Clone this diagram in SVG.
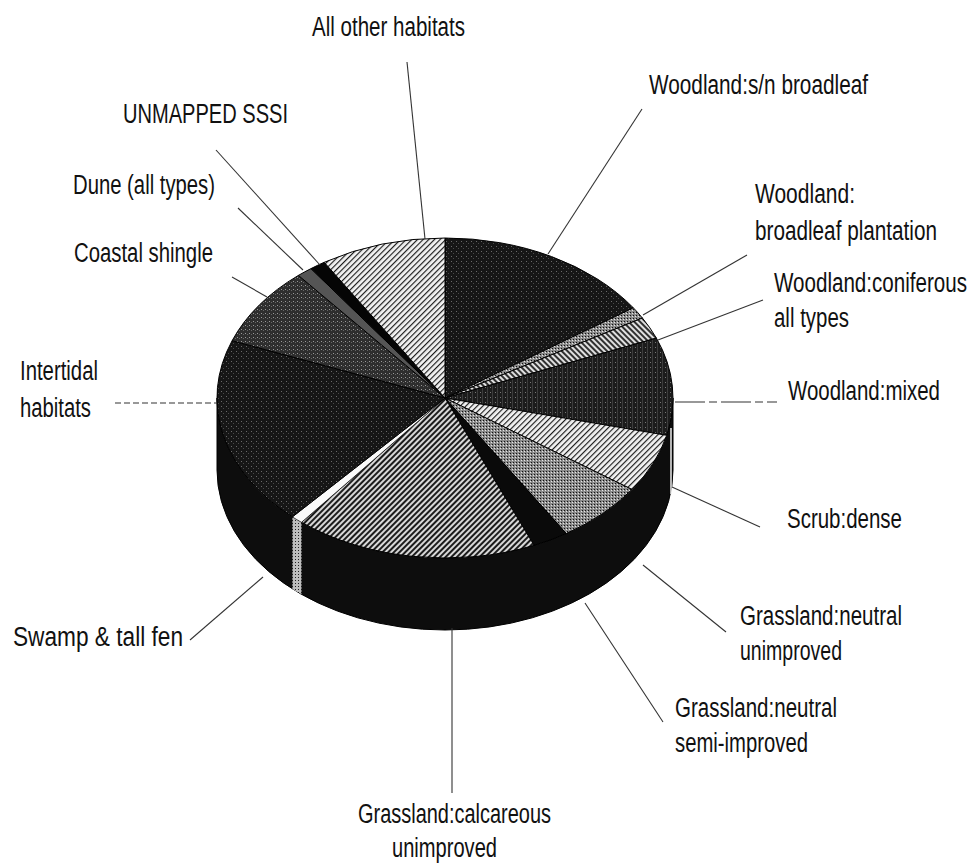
<svg xmlns="http://www.w3.org/2000/svg" width="976" height="868" viewBox="0 0 976 868">
<defs>
<pattern id="hLight" width="4" height="4" patternUnits="userSpaceOnUse" patternTransform="rotate(45)">
<rect width="4" height="4" fill="#f2f2f2"/><line x1="0.6" y1="0" x2="0.6" y2="4" stroke="#111" stroke-width="1.1"/>
</pattern>
<pattern id="hMed" width="4" height="4" patternUnits="userSpaceOnUse" patternTransform="rotate(45)">
<rect width="4" height="4" fill="#d8d8d8"/><line x1="1" y1="0" x2="1" y2="4" stroke="#111" stroke-width="1.9"/>
</pattern>
<pattern id="hBack" width="4" height="4" patternUnits="userSpaceOnUse" patternTransform="rotate(-45)">
<rect width="4" height="4" fill="#e0e0e0"/><line x1="1" y1="0" x2="1" y2="4" stroke="#111" stroke-width="1.7"/>
</pattern>
<pattern id="dark" width="5" height="5" patternUnits="userSpaceOnUse">
<rect width="5" height="5" fill="#161616"/><rect x="1" y="1" width="1" height="1" fill="#6a6a6a"/><rect x="3" y="3" width="1" height="1" fill="#4a4a4a"/>
</pattern>
<pattern id="darkGrid" width="5" height="5" patternUnits="userSpaceOnUse">
<rect width="5" height="5" fill="#1c1c1c"/><rect x="2" y="0" width="1" height="5" fill="#3c3c3c"/><rect x="0" y="2" width="1" height="1" fill="#777"/>
</pattern>
<pattern id="medDot" width="3" height="3" patternUnits="userSpaceOnUse">
<rect width="3" height="3" fill="#8a8a8a"/><rect x="0" y="0" width="1" height="1" fill="#111"/><rect x="2" y="1" width="1" height="1" fill="#e6e6e6"/>
</pattern>
<pattern id="shingle" width="4" height="4" patternUnits="userSpaceOnUse">
<rect width="4" height="4" fill="#2e2e2e"/><rect x="1" y="1" width="1" height="1" fill="#999"/><rect x="3" y="2" width="1" height="1" fill="#666"/>
</pattern>
<pattern id="sideSwamp" width="3" height="3" patternUnits="userSpaceOnUse">
<rect width="3" height="3" fill="#bdbdbd"/><rect x="1" y="1" width="1" height="1" fill="#222"/>
</pattern>
</defs>
<style>
text{font-family:"Liberation Sans",Arial,sans-serif;font-size:27px;fill:#111}
.s{stroke:#000;stroke-width:1}
.ld{fill:none;stroke:#333;stroke-width:1.1}
</style>
<rect width="976" height="868" fill="#fff"/>

<g id="pie-side">
<path class="s" d="M217 398 L217 470 A228 160 0 0 0 673 470 L673 398 A228 160 0 0 1 217 398 Z" fill="#0d0d0d"/>
<path d="M301.5 522.3 A228 160 0 0 1 292.4 516.9 L292.4 588.9 A228 160 0 0 0 301.5 594.3 Z" fill="url(#sideSwamp)"/>
<line x1="671" y1="428" x2="671" y2="494" stroke="#eee" stroke-width="1.5"/>
</g>

<g id="woodland-sn-broadleaf">
<path class="s" d="M445 398 L445 238 A228 160 0 0 1 633.3 307.8 Z" fill="url(#dark)"/>
<text x="649" y="94" textLength="219" lengthAdjust="spacingAndGlyphs">Woodland:s/n broadleaf</text>
</g>
<g id="woodland-broadleaf-plantation">
<path class="s" d="M445 398 L633.3 307.8 A228 160 0 0 1 642.4 318 Z" fill="url(#medDot)"/>
<text x="755" y="203" textLength="100" lengthAdjust="spacingAndGlyphs">Woodland:</text>
<text x="755" y="240" textLength="182" lengthAdjust="spacingAndGlyphs">broadleaf plantation</text>
</g>
<g id="woodland-coniferous">
<path class="s" d="M445 398 L642.4 318 A228 160 0 0 1 656.4 338.1 Z" fill="url(#hBack)"/>
<text x="774" y="292" textLength="193" lengthAdjust="spacingAndGlyphs">Woodland:coniferous</text>
<text x="774" y="327" textLength="75" lengthAdjust="spacingAndGlyphs">all types</text>
</g>
<g id="woodland-mixed">
<path class="s" d="M445 398 L656.4 338.1 A228 160 0 0 1 666.7 435.3 Z" fill="url(#darkGrid)"/>
<text x="788" y="400" textLength="152" lengthAdjust="spacingAndGlyphs">Woodland:mixed</text>
</g>
<g id="scrub-dense">
<path class="s" d="M445 398 L666.7 435.3 A228 160 0 0 1 632 489.5 Z" fill="url(#hLight)"/>
<text x="787" y="528" textLength="115" lengthAdjust="spacingAndGlyphs">Scrub:dense</text>
</g>
<g id="grassland-neutral-unimproved">
<path class="s" d="M445 398 L632 489.5 A228 160 0 0 1 566.2 533.5 Z" fill="url(#medDot)"/>
<text x="740" y="625" textLength="162" lengthAdjust="spacingAndGlyphs">Grassland:neutral</text>
<text x="740" y="660" textLength="102" lengthAdjust="spacingAndGlyphs">unimproved</text>
</g>
<g id="grassland-neutral-semi-improved">
<path class="s" d="M445 398 L566.2 533.5 A228 160 0 0 1 534.1 545.3 Z" fill="#0a0a0a"/>
<text x="675" y="717" textLength="162" lengthAdjust="spacingAndGlyphs">Grassland:neutral</text>
<text x="675" y="752" textLength="133" lengthAdjust="spacingAndGlyphs">semi-improved</text>
</g>
<g id="grassland-calcareous-unimproved">
<path class="s" d="M445 398 L534.1 545.3 A228 160 0 0 1 301.5 522.3 Z" fill="url(#hMed)"/>
<text x="358" y="823" textLength="193" lengthAdjust="spacingAndGlyphs">Grassland:calcareous</text>
<text x="392" y="857" textLength="105" lengthAdjust="spacingAndGlyphs">unimproved</text>
</g>
<g id="swamp-tall-fen">
<path d="M445 398 L301.5 522.3 A228 160 0 0 1 292.4 516.9 Z" fill="#fafafa" stroke="#000" stroke-width="0.6"/>
<text x="13" y="646" textLength="170" lengthAdjust="spacingAndGlyphs">Swamp &amp; tall fen</text>
</g>
<g id="intertidal-habitats">
<path class="s" d="M445 398 L292.4 516.9 A228 160 0 0 1 232.1 340.7 Z" fill="url(#dark)"/>
<text x="20" y="380" textLength="78" lengthAdjust="spacingAndGlyphs">Intertidal</text>
<text x="20" y="417" textLength="71" lengthAdjust="spacingAndGlyphs">habitats</text>
</g>
<g id="coastal-shingle">
<path class="s" d="M445 398 L232.1 340.7 A228 160 0 0 1 298.4 275.4 Z" fill="url(#shingle)"/>
<text x="74" y="262" textLength="139" lengthAdjust="spacingAndGlyphs">Coastal shingle</text>
</g>
<g id="dune">
<path class="s" d="M445 398 L298.4 275.4 A228 160 0 0 1 311 268.6 Z" fill="#555"/>
<text x="73" y="194" textLength="142" lengthAdjust="spacingAndGlyphs">Dune (all types)</text>
</g>
<g id="unmapped-sssi">
<path class="s" d="M445 398 L311 268.6 A228 160 0 0 1 324.2 262.3 Z" fill="#050505"/>
<text x="123" y="123" textLength="165" lengthAdjust="spacingAndGlyphs">UNMAPPED SSSI</text>
</g>
<g id="all-other-habitats">
<path class="s" d="M445 398 L324.2 262.3 A228 160 0 0 1 445 238 Z" fill="url(#hLight)"/>
<text x="312" y="36" textLength="153" lengthAdjust="spacingAndGlyphs">All other habitats</text>
</g>

<g id="connectors">
<line class="ld" x1="407" y1="62" x2="425" y2="239"/>
<line class="ld" x1="642" y1="109" x2="548" y2="254"/>
<line class="ld" x1="216" y1="150" x2="320" y2="265"/>
<line class="ld" x1="238" y1="208" x2="303" y2="270"/>
<line class="ld" x1="232" y1="277" x2="267" y2="297"/>
<line class="ld" x1="115" y1="403" x2="217" y2="403" stroke-dasharray="6 3"/>
<line class="ld" x1="747" y1="255" x2="643" y2="315"/>
<line class="ld" x1="763" y1="300" x2="658" y2="340"/>
<line class="ld" x1="675" y1="402" x2="777" y2="402" stroke-dasharray="30 4 8 4"/>
<line class="ld" x1="672" y1="487" x2="760" y2="527"/>
<line class="ld" x1="643" y1="565" x2="726" y2="632"/>
<line class="ld" x1="585" y1="603" x2="663" y2="722"/>
<line class="ld" x1="452" y1="628" x2="452" y2="793"/>
<line class="ld" x1="263" y1="577" x2="190" y2="640"/>
</g>
</svg>
